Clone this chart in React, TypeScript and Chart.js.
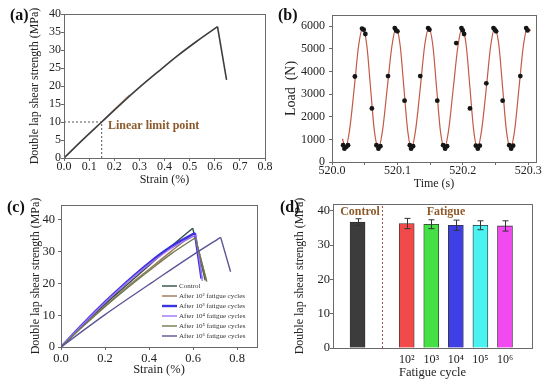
import React, { useEffect, useRef } from 'react';
import { Chart, registerables } from 'chart.js';
Chart.register(...registerables);

const SERIF = '"Liberation Serif", "Times New Roman", serif';
const INK = '#222';
const AXIS = '#6a6a6a';
const BROWN = '#8c5a2b';

// ---------- Panel (a): single shear curve ----------
const A_RISE_STRAIN = [0, 0.075, 0.15, 0.225, 0.3, 0.375, 0.45, 0.53, 0.611];
const A_RISE_STRESS = [0, 5.1, 10.0, 14.9, 19.6, 24.0, 28.3, 32.5, 36.5];
const A_DROP_STRAIN = [0.611, 0.647];
const A_DROP_STRESS = [36.5, 21.7];
const A_FIT_STRAIN = [0, 0.26];
const A_FIT_STRESS = [0, 17.6];
const A_LIMIT_STRAIN = 0.15;
const A_LIMIT_STRESS = 10;
const A_XTICKS = [0, 0.1, 0.2, 0.3, 0.4, 0.5, 0.6, 0.7, 0.8];
const A_YTICKS = [0, 5, 10, 15, 20, 25, 30, 35, 40];

// ---------- Panel (b): load vs time ----------
const B_LINE_T = [
  520.016, 520.0205, 520.0268, 520.034, 520.0407, 520.047, 520.0533, 520.059, 520.0647, 520.071,
  520.0773, 520.0845, 520.0917, 520.098, 520.1043, 520.110, 520.1157, 520.1215,
  520.1278, 520.135, 520.1417, 520.148, 520.1543, 520.160, 520.1657, 520.172,
  520.1783, 520.1855, 520.1927, 520.199, 520.2053, 520.211, 520.2167, 520.2225,
  520.2288, 520.236, 520.2427, 520.249, 520.2553, 520.261, 520.2667, 520.273,
  520.2793, 520.286, 520.2927, 520.299, 520.304,
];
const B_LINE_LOAD = [
  1030, 620, 1400, 3270, 5140, 5920, 5140, 3270, 1400, 620,
  1400, 3270, 5140, 5920, 5140, 3270, 1400, 620,
  1400, 3270, 5140, 5920, 5140, 3270, 1400, 620,
  1400, 3270, 5140, 5920, 5140, 3270, 1400, 620,
  1400, 3270, 5140, 5920, 5140, 3270, 1400, 620,
  1400, 3270, 5140, 5920, 5800,
];
const B_DOT_T = [
  520.017, 520.019, 520.022, 520.0245, 520.035, 520.046, 520.0485, 520.051, 520.061,
  520.068, 520.071, 520.074, 520.0857, 520.096, 520.098, 520.100, 520.111,
  520.119, 520.121, 520.124, 520.135, 520.147, 520.149, 520.161,
  520.170, 520.173, 520.176, 520.190, 520.198, 520.200, 520.202, 520.211,
  520.220, 520.223, 520.226, 520.236, 520.247, 520.249, 520.251, 520.261,
  520.271, 520.274, 520.277, 520.288, 520.297, 520.299,
];
const B_DOT_LOAD = [
  740, 590, 670, 740, 3780, 5900, 5850, 5660, 2370,
  740, 590, 700, 3800, 5920, 5820, 5780, 2710,
  740, 590, 700, 3800, 5920, 5850, 2710,
  740, 590, 700, 5260, 5920, 5820, 5660, 2370,
  720, 590, 720, 3480, 5920, 5850, 5780, 2710,
  740, 590, 720, 3800, 5920, 5820,
];
const B_XTICKS = [520.0, 520.05, 520.1, 520.15, 520.2, 520.25, 520.3];
const B_YTICKS = [0, 1000, 2000, 3000, 4000, 5000, 6000];

// ---------- Panel (c): curves after fatigue ----------
const C_LABELS = [
  'Control',
  'After 10² fatigue cycles',
  'After 10³ fatigue cycles',
  'After 10⁴ fatigue cycles',
  'After 10⁵ fatigue cycles',
  'After 10⁶ fatigue cycles',
];
const C_COLORS = ['#2f4f46', '#9a7658', '#3b33e0', '#a374f0', '#6f7a4e', '#5a5596'];
const C_WIDTHS = [1.4, 1.4, 2.4, 1.4, 1.4, 1.4];
const C_STRAIN_CONTROL = [0, 0.1, 0.2, 0.3, 0.4, 0.5, 0.598, 0.655];
const C_STRESS_CONTROL = [0, 6.9, 13.5, 19.6, 25.7, 31.7, 37.4, 21.0];
const C_STRAIN_E2 = [0, 0.1, 0.2, 0.3, 0.4, 0.5, 0.605, 0.66];
const C_STRESS_E2 = [0, 6.6, 12.9, 18.9, 24.5, 30.1, 35.8, 20.8];
const C_STRAIN_E3 = [0, 0.1, 0.2, 0.3, 0.4, 0.5, 0.608, 0.638];
const C_STRESS_E3 = [0, 7.3, 14.2, 20.6, 26.5, 31.6, 35.9, 21.5];
const C_STRAIN_E4 = [0, 0.1, 0.2, 0.3, 0.4, 0.5, 0.612, 0.642];
const C_STRESS_E4 = [0, 7.2, 14.0, 20.3, 26.0, 31.0, 35.2, 20.8];
const C_STRAIN_E5 = [0, 0.1, 0.2, 0.3, 0.4, 0.5, 0.61, 0.662];
const C_STRESS_E5 = [0, 6.5, 12.7, 18.5, 24.0, 29.3, 34.4, 20.6];
const C_STRAIN_E6 = [0, 0.2, 0.43, 0.6, 0.725, 0.77];
const C_STRESS_E6 = [0, 10.2, 21.1, 29.0, 34.5, 23.7];
const C_XTICKS = [0, 0.2, 0.4, 0.6, 0.8];
const C_YTICKS = [0, 10, 20, 30, 40];

// ---------- Panel (d): bar chart ----------
const D_POS = [0, 2, 3, 4, 5, 6];
const D_MEAN = [36.7, 36.3, 36.1, 35.8, 35.8, 35.6];
const D_ERR = [1.0, 1.5, 1.3, 1.5, 1.3, 1.5];
const D_COLORS = ['#3c3c3c', '#f24a4a', '#45e045', '#3f3fe6', '#4af2f2', '#f04af0'];
const D_TICK_POS = [2, 3, 4, 5, 6];
const D_TICK_LABELS = ['10²', '10³', '10⁴', '10⁵', '10⁶'];
const D_YTICKS = [0, 10, 20, 30, 40];
const D_DIVIDER = 1;

// ---------- helpers ----------
const fitW = (w: number) => (s: any) => {
  s.width = w; s.paddingTop = 0; s.paddingBottom = 0; s.paddingLeft = 0; s.paddingRight = 0;
};
const fitH = (h: number) => (s: any) => {
  s.height = h; s.paddingTop = 0; s.paddingBottom = 0; s.paddingLeft = 0; s.paddingRight = 0;
};
const setTicks = (vals: number[]) => (s: any) => {
  s.ticks = vals.map((v) => ({ value: v }));
};
const grid = (tl: number) => ({
  display: true, drawOnChartArea: false, drawTicks: true, tickLength: tl, color: AXIS, lineWidth: 1,
});
const pts = (xs: number[], ys: number[]) => xs.map((x, i) => ({ x, y: ys[i] }));
const plain = (v: number) => String(v);

const frame = {
  id: 'frame',
  afterDraw(c: any) {
    const { ctx, chartArea: a } = c;
    ctx.save();
    ctx.strokeStyle = AXIS;
    ctx.lineWidth = 1;
    ctx.strokeRect(Math.round(a.left) + 0.5, Math.round(a.top) + 0.5, Math.round(a.right - a.left), Math.round(a.bottom - a.top));
    ctx.restore();
  },
};
const panelLabel = (text: string, x: number, y: number) => ({
  id: 'panel' + text,
  afterDraw(c: any) {
    const ctx = c.ctx;
    ctx.save();
    ctx.font = `bold 16px ${SERIF}`;
    ctx.fillStyle = '#111';
    ctx.textAlign = 'left';
    ctx.textBaseline = 'middle';
    ctx.fillText(text, x, y);
    ctx.restore();
  },
});

const baseOpts = (pad: any) => ({
  animation: false,
  responsive: false,
  devicePixelRatio: 1,
  layout: { padding: pad, autoPadding: false },
  plugins: { legend: { display: false }, tooltip: { enabled: false } },
});

const tickFont = (size = 12) => ({ family: SERIF, size });

// ---------- configs ----------
function configA(): any {
  return {
    type: 'scatter',
    data: {
      datasets: [
        { data: pts(A_RISE_STRAIN, A_RISE_STRESS), showLine: true, borderColor: '#3d3d3d', borderWidth: 1.6, pointRadius: 0, cubicInterpolationMode: 'monotone' },
        { data: pts(A_DROP_STRAIN, A_DROP_STRESS), showLine: true, borderColor: '#3d3d3d', borderWidth: 1.6, pointRadius: 0 },
        { data: pts(A_FIT_STRAIN, A_FIT_STRESS), showLine: true, borderColor: 'rgba(200,140,115,0.95)', borderWidth: 1, pointRadius: 0 },
        { data: pts([0, A_LIMIT_STRAIN], [A_LIMIT_STRESS, A_LIMIT_STRESS]), showLine: true, borderColor: '#555', borderWidth: 1, borderDash: [2, 2], pointRadius: 0 },
        { data: pts([A_LIMIT_STRAIN, A_LIMIT_STRAIN], [0, A_LIMIT_STRESS]), showLine: true, borderColor: '#555', borderWidth: 1, borderDash: [2, 2], pointRadius: 0 },
      ],
    },
    options: {
      ...baseOpts({ left: 0, right: 10, top: 14, bottom: 0 }),
      scales: {
        x: {
          type: 'linear', min: 0, max: 0.8,
          afterBuildTicks: setTicks(A_XTICKS), afterFit: fitH(32),
          ticks: { autoSkip: false, maxRotation: 0, padding: -1, color: INK, font: tickFont(12), callback: (v: number) => v.toFixed(1) },
          grid: grid(3), border: { display: false },
          title: { display: true, text: 'Strain (%)', color: INK, font: { family: SERIF, size: 12 }, padding: { top: 0, bottom: 3 } },
        },
        y: {
          type: 'linear', min: 0, max: 40,
          afterBuildTicks: setTicks(A_YTICKS), afterFit: fitW(64),
          ticks: { autoSkip: false, padding: 0, color: INK, font: tickFont(12), callback: plain },
          grid: grid(3), border: { display: false },
          title: { display: true, text: 'Double lap shear strength (MPa)', color: INK, font: { family: SERIF, size: 12 }, padding: { top: 28, bottom: 0 } },
        },
      },
    },
    plugins: [
      frame,
      panelLabel('(a)', 10, 16),
      {
        id: 'annA',
        afterDraw(c: any) {
          const { ctx, scales } = c;
          ctx.save();
          ctx.font = `bold 12px ${SERIF}`;
          ctx.fillStyle = BROWN;
          ctx.textAlign = 'left';
          ctx.textBaseline = 'middle';
          ctx.fillText('Linear limit point', scales.x.getPixelForValue(0.175), scales.y.getPixelForValue(8.9));
          ctx.restore();
        },
      },
    ],
  };
}

function configB(): any {
  return {
    type: 'scatter',
    data: {
      datasets: [
        { data: pts(B_DOT_T, B_DOT_LOAD), showLine: false, pointRadius: 2.4, pointBackgroundColor: '#151515', pointBorderColor: '#151515', pointBorderWidth: 0 },
        { data: pts(B_LINE_T, B_LINE_LOAD), showLine: true, borderColor: '#c25a44', borderWidth: 1.2, pointRadius: 0, cubicInterpolationMode: 'monotone' },
      ],
    },
    options: {
      ...baseOpts({ left: 0, right: 14, top: 15, bottom: 0 }),
      scales: {
        x: {
          type: 'linear', min: 520.0, max: 520.312,
          afterBuildTicks: setTicks(B_XTICKS), afterFit: fitH(28),
          ticks: { autoSkip: false, maxRotation: 0, padding: -1, color: INK, font: tickFont(12), callback: (v: number, i: number) => (i % 2 === 0 ? v.toFixed(1) : '') },
          grid: grid(3), border: { display: false },
          title: { display: true, text: 'Time (s)', color: INK, font: { family: SERIF, size: 12, lineHeight: 1 }, padding: { top: 0, bottom: 0 } },
        },
        y: {
          type: 'linear', min: 0, max: 6500,
          afterBuildTicks: setTicks(B_YTICKS), afterFit: fitW(57),
          ticks: { autoSkip: false, padding: 4, color: INK, font: tickFont(12), callback: plain },
          grid: grid(3), border: { display: false },
          title: { display: true, text: 'Load  (N)', color: INK, font: { family: SERIF, size: 14 }, padding: { top: 8, bottom: 0 } },
        },
      },
    },
    plugins: [frame, panelLabel('(b)', 3, 16)],
  };
}

function configC(): any {
  const series = [
    [C_STRAIN_CONTROL, C_STRESS_CONTROL],
    [C_STRAIN_E2, C_STRESS_E2],
    [C_STRAIN_E3, C_STRESS_E3],
    [C_STRAIN_E4, C_STRESS_E4],
    [C_STRAIN_E5, C_STRESS_E5],
    [C_STRAIN_E6, C_STRESS_E6],
  ];
  const datasets: any[] = [];
  series.forEach(([xs, ys], i) => {
    const n = xs.length;
    datasets.push({
      label: C_LABELS[i], data: pts(xs.slice(0, n - 1), ys.slice(0, n - 1)), showLine: true,
      borderColor: C_COLORS[i], borderWidth: C_WIDTHS[i], pointRadius: 0, order: 5 - i,
      cubicInterpolationMode: 'monotone',
    });
    datasets.push({
      label: C_LABELS[i], data: pts(xs.slice(n - 2), ys.slice(n - 2)), showLine: true,
      borderColor: C_COLORS[i], borderWidth: C_WIDTHS[i], pointRadius: 0, order: 5 - i,
    });
  });
  return {
    type: 'scatter',
    data: { datasets },
    options: {
      ...baseOpts({ left: 0, right: 18, top: 15, bottom: 0 }),
      scales: {
        x: {
          type: 'linear', min: 0, max: 0.89,
          afterBuildTicks: setTicks(C_XTICKS), afterFit: fitH(38),
          ticks: { autoSkip: false, maxRotation: 0, padding: 1, color: INK, font: tickFont(12.5), callback: (v: number) => v.toFixed(1) },
          grid: grid(3), border: { display: false },
          title: { display: true, text: 'Strain (%)', color: INK, font: { family: SERIF, size: 12.5 }, padding: { top: 0, bottom: 8 } },
        },
        y: {
          type: 'linear', min: 0, max: 44.7,
          afterBuildTicks: setTicks(C_YTICKS), afterFit: fitW(61),
          ticks: { autoSkip: false, padding: 3, color: INK, font: tickFont(12.5), callback: plain },
          grid: grid(3), border: { display: false },
          title: { display: true, text: 'Double lap shear strength (MPa)', color: INK, font: { family: SERIF, size: 12 }, padding: { top: 29, bottom: 0 } },
        },
      },
    },
    plugins: [
      frame,
      panelLabel('(c)', 7, 18),
      {
        id: 'legC',
        afterDraw(c: any) {
          const ctx = c.ctx;
          ctx.save();
          ctx.font = `7px ${SERIF}`;
          ctx.textAlign = 'left';
          ctx.textBaseline = 'middle';
          C_LABELS.forEach((lab, i) => {
            const y = 96 + i * 10;
            ctx.strokeStyle = C_COLORS[i];
            ctx.lineWidth = C_WIDTHS[i];
            ctx.beginPath();
            ctx.moveTo(162, y);
            ctx.lineTo(177, y);
            ctx.stroke();
            ctx.fillStyle = '#333';
            ctx.fillText(lab, 179, y);
          });
          ctx.restore();
        },
      },
    ],
  };
}

function configD(): any {
  return {
    type: 'bar',
    data: {
      datasets: [
        {
          data: pts(D_POS, D_MEAN), backgroundColor: D_COLORS, borderColor: '#333', borderWidth: 0.8, barThickness: 15,
        },
      ],
    },
    options: {
      ...baseOpts({ left: 0, right: 18, top: 14, bottom: 0 }),
      scales: {
        x: {
          type: 'linear', min: -1, max: 7.1, offset: false,
          afterBuildTicks: setTicks(D_TICK_POS), afterFit: fitH(37),
          ticks: { autoSkip: false, maxRotation: 0, padding: -3, color: INK, font: tickFont(12), callback: (v: number, i: number) => D_TICK_LABELS[i] },
          grid: { display: false, offset: false }, border: { display: false },
          title: { display: true, text: 'Fatigue cycle', color: INK, font: { family: SERIF, size: 12.5 }, padding: { top: 0, bottom: 5 } },
        },
        y: {
          type: 'linear', min: 0, max: 42,
          afterBuildTicks: setTicks(D_YTICKS), afterFit: fitW(58),
          ticks: { autoSkip: false, padding: 0, color: INK, font: tickFont(12.5), callback: plain },
          grid: grid(3), border: { display: false },
          title: { display: true, text: 'Double lap shear strength (MPa)', color: INK, font: { family: SERIF, size: 12 }, padding: { top: 18, bottom: 0 } },
        },
      },
    },
    plugins: [
      frame,
      panelLabel('(d)', 5, 18),
      {
        id: 'annD',
        afterDatasetsDraw(c: any) {
          const { ctx, scales } = c;
          const xs = scales.x, ys = scales.y;
          ctx.save();
          ctx.strokeStyle = '#333';
          ctx.lineWidth = 1;
          D_POS.forEach((p, i) => {
            const x = Math.round(xs.getPixelForValue(p)) + 0.5;
            const yt = ys.getPixelForValue(D_MEAN[i] + D_ERR[i]);
            const yb = ys.getPixelForValue(D_MEAN[i] - D_ERR[i]);
            ctx.beginPath();
            ctx.moveTo(x, yt); ctx.lineTo(x, yb);
            ctx.moveTo(x - 3, yt); ctx.lineTo(x + 3, yt);
            ctx.moveTo(x - 3, yb); ctx.lineTo(x + 3, yb);
            ctx.stroke();
          });
          const dx = Math.round(xs.getPixelForValue(D_DIVIDER)) + 0.5;
          ctx.strokeStyle = '#a05050';
          ctx.setLineDash([2, 2]);
          ctx.beginPath();
          ctx.moveTo(dx, ys.getPixelForValue(0));
          ctx.lineTo(dx, ys.getPixelForValue(42));
          ctx.stroke();
          ctx.setLineDash([]);
          ctx.font = `bold 12px ${SERIF}`;
          ctx.fillStyle = BROWN;
          ctx.textAlign = 'center';
          ctx.textBaseline = 'middle';
          ctx.fillText('Control', xs.getPixelForValue(0.1), ys.getPixelForValue(39.7));
          ctx.fillText('Fatigue', xs.getPixelForValue(3.6), ys.getPixelForValue(39.7));
          ctx.restore();
        },
      },
    ],
  };
}

function Panel({ make, left, top, width, height }: any) {
  const ref = useRef<HTMLCanvasElement | null>(null);
  useEffect(() => {
    const chart = new Chart(ref.current as HTMLCanvasElement, make());
    return () => chart.destroy();
  }, []);
  return (
    <canvas
      ref={ref}
      width={width}
      height={height}
      style={{ position: 'absolute', left, top, width, height, display: 'block' }}
    />
  );
}

export default function App() {
  return (
    <div style={{ position: 'fixed', left: 0, top: 0, width: 550, height: 385, background: '#fff', overflow: 'hidden' }}>
      <Panel make={configA} left={0} top={0} width={275} height={190} />
      <Panel make={configB} left={275} top={0} width={275} height={190} />
      <Panel make={configC} left={0} top={190} width={275} height={195} />
      <Panel make={configD} left={275} top={190} width={275} height={195} />
    </div>
  );
}
